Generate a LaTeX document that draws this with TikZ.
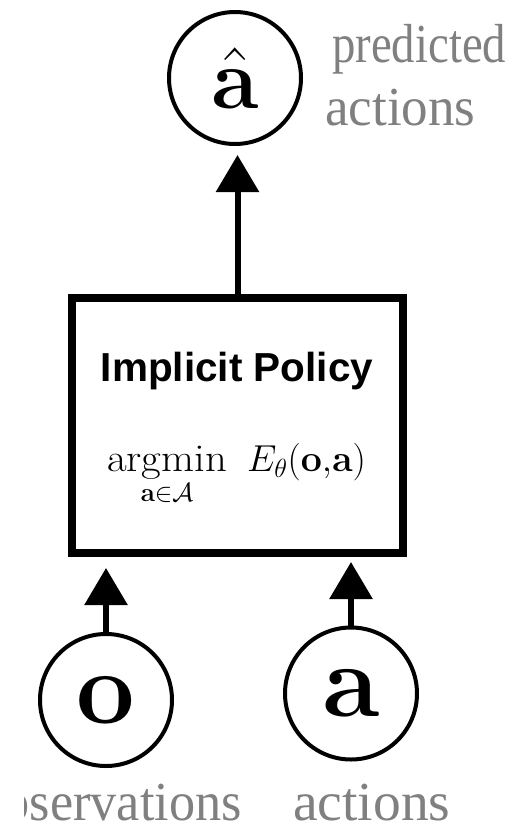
\RequirePackage{fix-cm}
\documentclass[tikz,border=0pt]{standalone}
\usepackage{amsmath}
\usepackage{graphicx}
\usepackage[no-math]{fontspec}
\newfontfamily\labelfont{Liberation Serif}
\newfontfamily\boxfont{Liberation Sans}
\usetikzlibrary{arrows.meta}
\definecolor{labelgray}{RGB}{128,128,128}
\begin{document}
\begin{tikzpicture}[x=1pt,y=1pt,
  var/.style={circle,draw,line width=4pt,minimum size=132pt,inner sep=0pt},
  arr/.style={-{Triangle[width=42pt,length=37pt]},line width=6pt},
  lbl/.style={inner sep=0pt,text=labelgray,font=\labelfont\fontsize{55}{60}\selectfont},
  policy/.style={draw,line width=8pt,minimum width=331pt,minimum height=255pt,inner sep=0pt}]
\useasboundingbox (0,0) rectangle (515,-833);
\node[policy] (box) at (237.5,-425.5) {};
\node[anchor=base,inner sep=0pt,font=\boxfont\bfseries\fontsize{40.5}{48}\selectfont] (title) at (237,-381) {Implicit Policy};
\node[anchor=base,inner sep=0pt,font=\fontsize{37.5}{45}\selectfont] (energy) at (236.5,-471.7)
  {$\displaystyle\mathop{\scalebox{1.14}[1.05]{argmin}}\limits_{\mathbf{a}\in\mathcal{A}}\hspace{14pt}E_\theta(\mathbf{o}{,}\mathbf{a})$};
\node[var,font=\fontsize{86}{90}\selectfont] (ahat) at (235,-78) {$\hat{\mathbf{a}}$};
\node[var,font=\fontsize{104}{110}\selectfont] (o) at (106,-700) {$\mathbf{o}$};
\node[var,font=\fontsize{104}{110}\selectfont] (a) at (351,-693.5) {$\mathbf{a}$};
\draw[arr,shorten >=9pt] (box.north) -- (box.north |- ahat.south);
\draw[arr,shorten >=11pt] (o.north) -- (o.north |- box.south);
\draw[arr,shorten >=5pt] (a.north) -- (a.north |- box.south);
\node[lbl,anchor=base west] (predlbl) at (332,-62) {\scalebox{0.85}[1]{predicted}};
\node[lbl,anchor=base west] (actlbl) at (325,-125) {\scalebox{0.965}[1]{actions}};
\begin{scope}
  \clip (24,-760) rectangle (515,-833);
  \node[lbl,anchor=base east] (obslbl) at (242,-820) {\scalebox{0.95}[1]{observations}};
\end{scope}
\node[lbl,anchor=base west] (actlbl2) at (293,-820) {\scalebox{1.01}[1]{actions}};
\end{tikzpicture}
\end{document}
